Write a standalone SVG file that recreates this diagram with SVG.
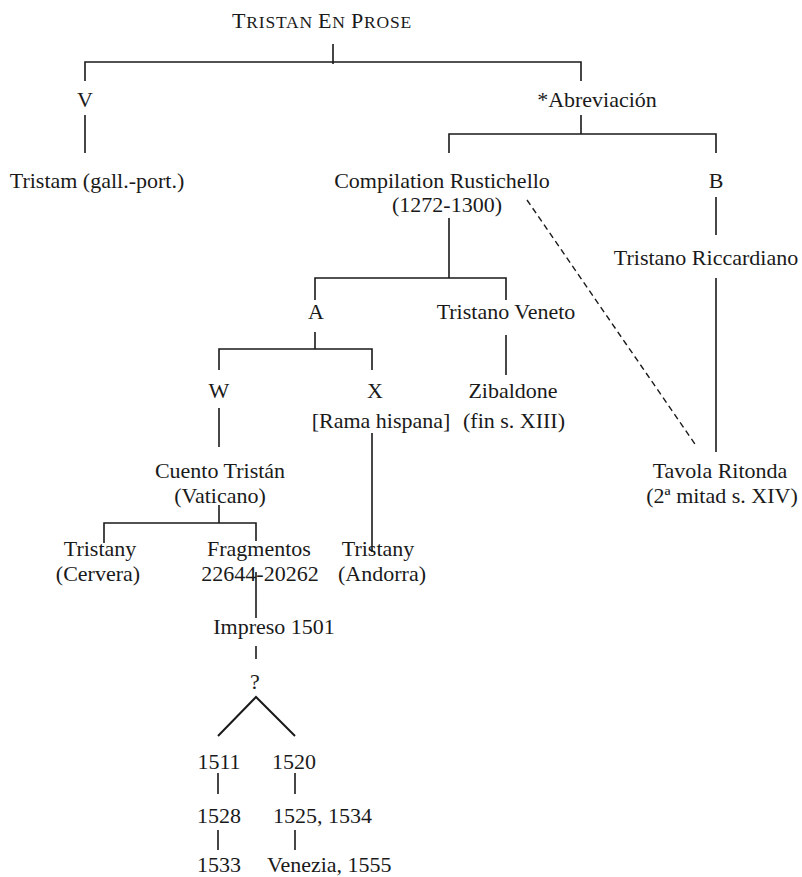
<svg xmlns="http://www.w3.org/2000/svg" width="802" height="877" viewBox="0 0 802 877">
<style>
text{font-family:"Liberation Serif","Times New Roman",serif;font-size:22px;fill:#1a1a1a;text-anchor:middle}
.l{text-anchor:start}
.t{letter-spacing:0.8px}
.sc{font-size:17.5px}
#connectors path{fill:none;stroke:#1a1a1a;stroke-width:1.6}
#connectors .d{stroke-dasharray:6 4;stroke-width:1.4}
#connectors .v{stroke-width:2}
</style>
<rect width="802" height="877" fill="#fff"/>
<g id="connectors">
<path d="M333 44V64M85 81V62H581V81"/>
<path d="M85 115V153"/>
<path d="M581 115V134M449 153V134H716V153"/>
<path d="M716 197V235"/>
<path d="M716 278V452"/>
<path class="d" d="M527 200L697 447"/>
<path d="M449 218V278M315 300V278H506V300"/>
<path d="M315 332V349M219 370V349H372V370"/>
<path d="M506 335V375"/>
<path d="M219 408V447"/>
<path d="M372 433V552"/>
<path d="M219 505V523M104 543V523H256V541"/>
<path d="M256 572V618"/>
<path d="M256 646V659"/>
<path class="v" d="M218 736L256 697L295 736"/>
<path d="M218 773V794M295 773V794M218 830V850M295 830V850"/>
</g>
<g id="n-tristan"><text class="t" x="322" y="28"><tspan>T</tspan><tspan class="sc">RISTAN </tspan><tspan>E</tspan><tspan class="sc">N </tspan><tspan>P</tspan><tspan class="sc">ROSE</tspan></text></g>
<g id="n-v"><text x="85" y="107">V</text></g>
<g id="n-tristam"><text x="97" y="188">Tristam (gall.-port.)</text></g>
<g id="n-abreviacion"><text x="597" y="107">*Abreviación</text></g>
<g id="n-rustichello"><text x="442" y="188">Compilation Rustichello</text><text x="447" y="212">(1272-1300)</text></g>
<g id="n-b"><text x="716" y="188">B</text></g>
<g id="n-riccardiano"><text x="706" y="265">Tristano Riccardiano</text></g>
<g id="n-a"><text x="316" y="319">A</text></g>
<g id="n-veneto"><text x="506" y="319">Tristano Veneto</text></g>
<g id="n-w"><text x="219" y="398">W</text></g>
<g id="n-x"><text x="375" y="398">X</text><text x="381" y="428">[Rama hispana]</text></g>
<g id="n-zibaldone"><text x="513" y="398">Zibaldone</text><text x="514" y="428">(fin s. XIII)</text></g>
<g id="n-tavola"><text x="720" y="478">Tavola Ritonda</text><text x="722" y="503">(2ª mitad s. XIV)</text></g>
<g id="n-cuento"><text x="220" y="478">Cuento Tristán</text><text x="220" y="503">(Vaticano)</text></g>
<g id="n-cervera"><text x="100" y="556">Tristany</text><text x="98" y="581">(Cervera)</text></g>
<g id="n-fragmentos"><text x="259" y="556">Fragmentos</text><text x="260" y="581">22644-20262</text></g>
<g id="n-andorra"><text x="378" y="556">Tristany</text><text x="382" y="581">(Andorra)</text></g>
<g id="n-impreso"><text x="274" y="634">Impreso 1501</text></g>
<g id="n-q"><text x="255" y="689">?</text></g>
<g id="n-1511"><text x="219" y="769">1511</text></g>
<g id="n-1520"><text x="294" y="769">1520</text></g>
<g id="n-1528"><text x="219" y="823">1528</text></g>
<g id="n-1525"><text class="l" x="273" y="823">1525, 1534</text></g>
<g id="n-1533"><text x="219" y="872">1533</text></g>
<g id="n-venezia"><text class="l" x="267" y="872">Venezia, 1555</text></g>
</svg>
